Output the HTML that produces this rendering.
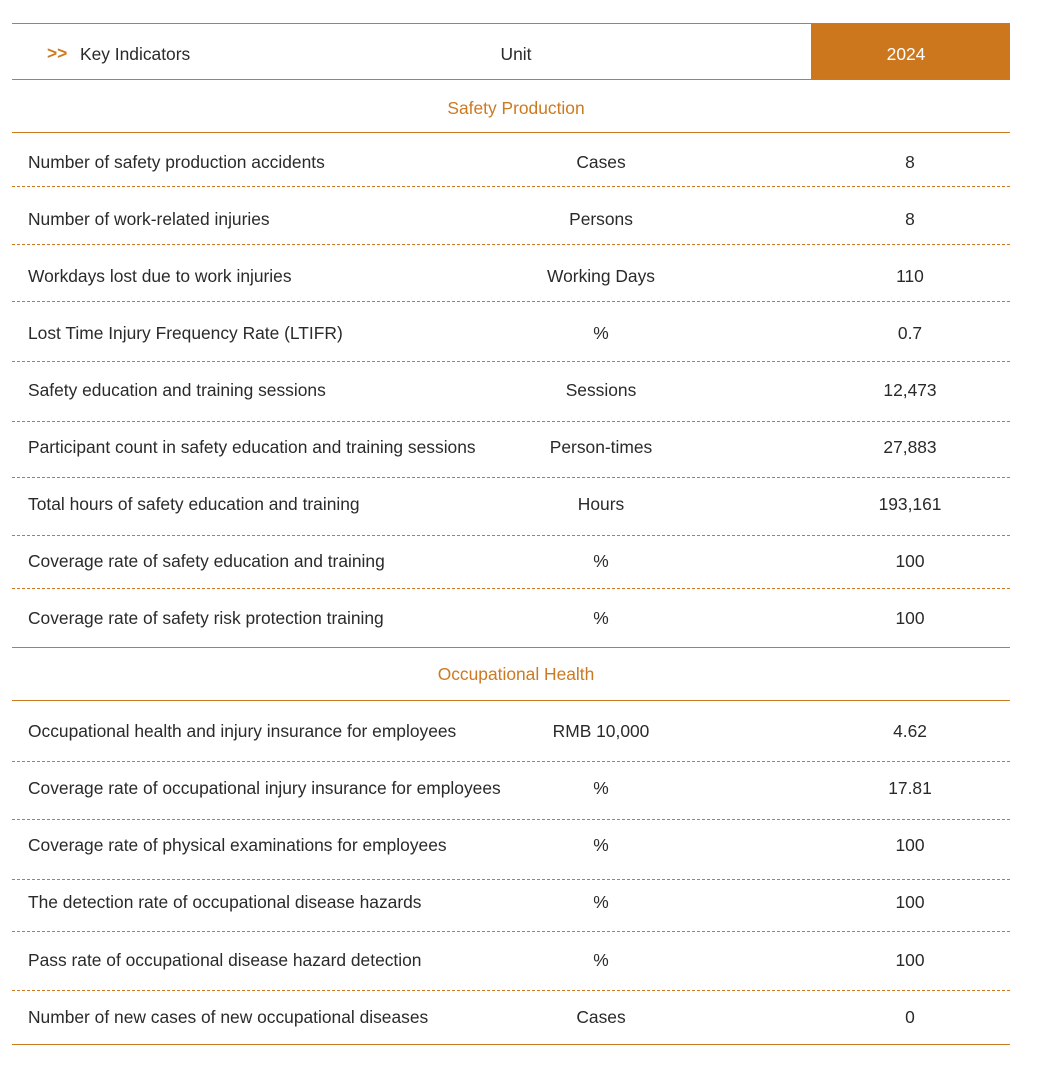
<!DOCTYPE html>
<html><head><style>
body{margin:0;width:1038px;height:1068px;background:#fff;position:relative;font-family:"Liberation Sans",sans-serif;font-size:17.4px;color:#2a2a2a;overflow:hidden}
.l{position:absolute;left:12px;width:998px;height:0;border-top:1px solid #cc7a22}
.d{border-top:1px dashed #cc7a22}
.t{position:absolute;line-height:20px;white-space:nowrap}
.c{transform:translateX(-50%)}
.o{color:#cc7a22}
</style></head><body>
<div style="position:absolute;left:811px;top:23px;width:199px;height:56px;background:#cc771e"></div>
<div class="l" style="top:23px"></div>
<div class="l" style="top:79px"></div>
<div class="t o" style="left:47px;top:43px;font-weight:bold">&gt;&gt;</div>
<div class="t" style="left:80px;top:44px">Key Indicators</div>
<div class="t c" style="left:516px;top:44px">Unit</div>
<div class="t c" style="left:906px;top:44px;color:#fff">2024</div>
<div class="t c o" style="left:516px;top:98px">Safety Production</div>
<div class="l" style="top:132px"></div>
<div class="l" style="top:647px"></div>
<div class="t c o" style="left:516px;top:664px">Occupational Health</div>
<div class="l" style="top:700px"></div>
<div class="l" style="top:1044px"></div>
<div class="l d" style="top:186px"></div>
<div class="l d" style="top:244px"></div>
<div class="l d" style="top:301px"></div>
<div class="l d" style="top:361px"></div>
<div class="l d" style="top:421px"></div>
<div class="l d" style="top:477px"></div>
<div class="l d" style="top:535px"></div>
<div class="l d" style="top:588px"></div>
<div class="l d" style="top:761px"></div>
<div class="l d" style="top:819px"></div>
<div class="l d" style="top:879px"></div>
<div class="l d" style="top:931px"></div>
<div class="l d" style="top:990px"></div>

<div class="t" style="left:28px;top:152px">Number of safety production accidents</div><div class="t c" style="left:601px;top:152px">Cases</div><div class="t c" style="left:910px;top:152px">8</div>
<div class="t" style="left:28px;top:209px">Number of work-related injuries</div><div class="t c" style="left:601px;top:209px">Persons</div><div class="t c" style="left:910px;top:209px">8</div>
<div class="t" style="left:28px;top:266px">Workdays lost due to work injuries</div><div class="t c" style="left:601px;top:266px">Working Days</div><div class="t c" style="left:910px;top:266px">110</div>
<div class="t" style="left:28px;top:323px">Lost Time Injury Frequency Rate (LTIFR)</div><div class="t c" style="left:601px;top:323px">%</div><div class="t c" style="left:910px;top:323px">0.7</div>
<div class="t" style="left:28px;top:380px">Safety education and training sessions</div><div class="t c" style="left:601px;top:380px">Sessions</div><div class="t c" style="left:910px;top:380px">12,473</div>
<div class="t" style="left:28px;top:437px">Participant count in safety education and training sessions</div><div class="t c" style="left:601px;top:437px">Person-times</div><div class="t c" style="left:910px;top:437px">27,883</div>
<div class="t" style="left:28px;top:494px">Total hours of safety education and training</div><div class="t c" style="left:601px;top:494px">Hours</div><div class="t c" style="left:910px;top:494px">193,161</div>
<div class="t" style="left:28px;top:551px">Coverage rate of safety education and training</div><div class="t c" style="left:601px;top:551px">%</div><div class="t c" style="left:910px;top:551px">100</div>
<div class="t" style="left:28px;top:608px">Coverage rate of safety risk protection training</div><div class="t c" style="left:601px;top:608px">%</div><div class="t c" style="left:910px;top:608px">100</div>

<div class="t" style="left:28px;top:721px">Occupational health and injury insurance for employees</div><div class="t c" style="left:601px;top:721px">RMB 10,000</div><div class="t c" style="left:910px;top:721px">4.62</div>
<div class="t" style="left:28px;top:778px">Coverage rate of occupational injury insurance for employees</div><div class="t c" style="left:601px;top:778px">%</div><div class="t c" style="left:910px;top:778px">17.81</div>
<div class="t" style="left:28px;top:835px">Coverage rate of physical examinations for employees</div><div class="t c" style="left:601px;top:835px">%</div><div class="t c" style="left:910px;top:835px">100</div>
<div class="t" style="left:28px;top:892px">The detection rate of occupational disease hazards</div><div class="t c" style="left:601px;top:892px">%</div><div class="t c" style="left:910px;top:892px">100</div>
<div class="t" style="left:28px;top:950px">Pass rate of occupational disease hazard detection</div><div class="t c" style="left:601px;top:950px">%</div><div class="t c" style="left:910px;top:950px">100</div>
<div class="t" style="left:28px;top:1007px">Number of new cases of new occupational diseases</div><div class="t c" style="left:601px;top:1007px">Cases</div><div class="t c" style="left:910px;top:1007px">0</div>
</body></html>
